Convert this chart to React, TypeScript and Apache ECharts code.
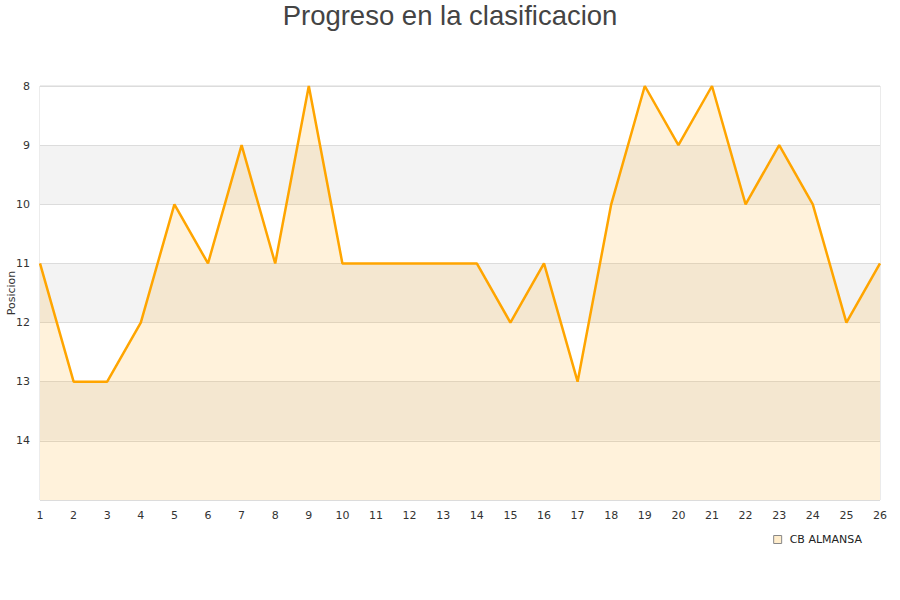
import React, { useEffect, useRef } from "react";
import * as echarts from "echarts";

const jornadas = ["1","2","3","4","5","6","7","8","9","10","11","12","13","14","15","16","17","18","19","20","21","22","23","24","25","26"];
const posiciones = [11,13,13,12,10,11,9,11,8,11,11,11,11,11,12,11,13,10,8,9,8,10,9,10,12,11];
const teamName = "CB ALMANSA";
const chartTitle = "Progreso en la clasificacion";
const yAxisName = "Posicion";

export default function App() {
  const ref = useRef<HTMLDivElement>(null);
  useEffect(() => {
    const chart = echarts.init(ref.current!, null, { renderer: "svg" });
    chart.setOption({
      animation: false,
      backgroundColor: "#ffffff",
      title: {
        text: chartTitle,
        left: "center",
        top: 0,
        padding: [1, 5],
        textStyle: { fontFamily: "Liberation Sans, Arial, sans-serif", fontSize: 27.5, fontWeight: "normal", color: "#444" },
      },
      graphic: [
        {
          type: "text",
          x: 11,
          y: 293,
          rotation: Math.PI / 2,
          style: {
            text: yAxisName,
            align: "center",
            verticalAlign: "middle",
            fontFamily: "DejaVu Sans, sans-serif",
            fontSize: 11,
            fill: "#333",
          },
        },
      ],
      grid: { left: 40, right: 20, top: 86, bottom: 100, show: true, borderColor: "#d8d8d8", borderWidth: 1, backgroundColor: "transparent", outerBoundsMode: "none", containLabel: false },
      legend: {
        data: [{ name: teamName, icon: "rect" }],
        right: 33,
        top: 529,
        itemWidth: 8,
        itemHeight: 8,
        itemGap: 8,
        textStyle: { fontFamily: "DejaVu Sans, sans-serif", fontSize: 11, color: "#222", padding: [0, 0, 0, 3] },
        itemStyle: { color: "#ffedcc", borderColor: "#888", borderWidth: 1 },
      },
      xAxis: {
        type: "category",
        data: jornadas,
        boundaryGap: false,
        axisLine: { show: false },
        axisTick: { show: false },
        splitLine: { show: false },
        axisLabel: { color: "#333", fontFamily: "DejaVu Sans, sans-serif", fontSize: 11, margin: 10 },
      },
      yAxis: {
        type: "value",
        inverse: true,
        min: 8,
        max: 15,
        interval: 1,
        axisLine: { show: false },
        axisTick: { show: false },
        axisLabel: {
          color: "#333",
          fontFamily: "DejaVu Sans, sans-serif",
          fontSize: 11,
          margin: 10,
          formatter: (v: number) => (v === 15 ? "" : String(v)),
        },
        splitLine: { show: true, lineStyle: { color: "#dcdcdc", width: 1 } },
        splitArea: { show: true, areaStyle: { color: ["#ffffff", "#f3f3f3"] } },
      },
      series: [
        {
          name: teamName,
          type: "line",
          data: posiciones,
          showSymbol: false,
          symbol: "none",
          lineStyle: { color: "#ffa500", width: 2.5 },
          itemStyle: { color: "#ffa500" },
          areaStyle: { color: "rgba(255,165,0,0.2)", origin: "end" },
          z: 3,
        },
      ],
    });
    return () => chart.dispose();
  }, []);
  return <div ref={ref} style={{ position: "absolute", left: 0, top: 0, width: 900, height: 600 }} />;
}
